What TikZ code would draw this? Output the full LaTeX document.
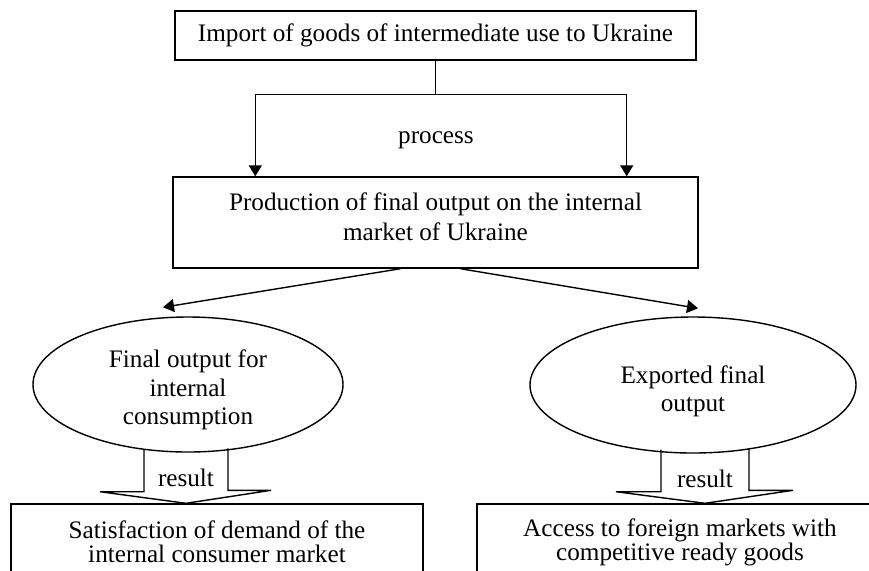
\documentclass[tikz,border=0pt]{standalone}
\usepackage{fontspec}
\setmainfont{Liberation Serif}
\usetikzlibrary{shapes.geometric,arrows.meta,calc}

\begin{document}
\begin{tikzpicture}[x=0.5pt,y=-0.5pt,line width=0.7pt,>={Triangle[width=6.5pt,length=5.5pt]},
    font=\fontsize{12.6}{15}\selectfont]

    \useasboundingbox (0,0) rectangle (869,570);

    \begin{scope}[every node/.style={rectangle,draw,align=center,inner sep=0pt}]
        \node[minimum width=260.5pt,minimum height=24.5pt] (imp) at (435.5,35.5) {Import of goods of intermediate use to Ukraine}; % Import box
        \node[minimum width=262.5pt,minimum height=45.5pt] (prod) at (435.5,222.5) {Production of final output on the internal\\market of Ukraine\rule[-5.5pt]{0pt}{5.5pt}};
        \node[minimum width=206pt,minimum height=38pt,font=\fontsize{12.6}{12}\selectfont] (sat) at (217,542) {Satisfaction of demand of the\\internal consumer market};
        \node[minimum width=203pt,minimum height=38pt,font=\fontsize{12.6}{12}\selectfont] (acc) at (680,542) {Access to foreign markets with\\competitive ready goods};
    \end{scope}

    \begin{scope}[every node/.style={ellipse,draw,align=center,inner sep=0pt,font=\fontsize{12.6}{14.3}\selectfont}]
        \node[minimum width=155pt,minimum height=67.5pt] (fin) at (188,384.5) {\rule{0pt}{14.5pt}Final output for\\internal\\consumption};
        \node[minimum width=163pt,minimum height=68pt] (exp) at (693,385) {\rule{0pt}{15pt}Exported final\\output};
    \end{scope}

    % Labels %
    \node (proc) at (436,140) {process};
    \node (res1) at ($(fin.south)+(-2,25)$) {result};
    \node (res2) at ($(exp.south)+(12,25)$) {result};

    % Process arrows %
    \coordinate (split) at ($(imp.south)+(0,34)$);
    \draw (imp.south) -- (split);
    \draw[->] (split) -| ($(prod.north west)+(83,0)$);
    \draw[->] (split) -| ($(prod.north east)+(-72,0)$);
    \draw[->] ($(prod.south)+(-35,0)$) -- ($(fin.north)+(-25,-9)$);
    \draw[->] ($(prod.south)+(25,0)$) -- ($(exp.north)+(5,-8)$);

    % Result arrows %
    \draw ($(fin.south)+(-44,-3)$) -- ++(0,42) -- ++(-44,0) -- ($(fin.south |- sat.north)+(-2,0)$)
        -- ++(85,-13) -- ++(-43,0) -- ++(0,-42);
    \draw ($(exp.south)+(-32,-4)$) -- ++(0,42) -- ++(-45,0) -- ($(exp.south |- acc.north)+(12,0)$)
        -- ++(88,-13) -- ++(-44,0) -- ++(0,-42);

\end{tikzpicture}
\end{document}
